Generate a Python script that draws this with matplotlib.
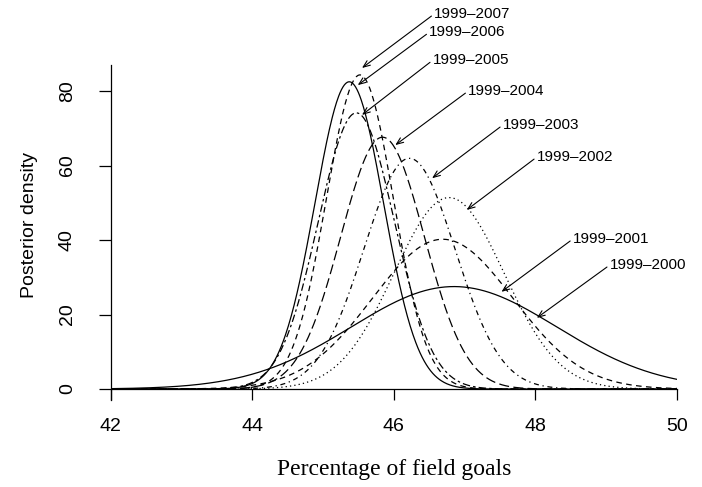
import numpy as np
import matplotlib.pyplot as plt

# posterior summaries (percentage points)
periods = ['1999-2000', '1999-2001', '1999-2002', '1999-2003',
           '1999-2004', '1999-2005', '1999-2006', '1999-2007']
means = [46.85, 46.69, 46.78, 46.22, 45.84, 45.47, 45.37, 45.52]
sds = [1.45, 0.992, 0.776, 0.644, 0.590, 0.538, 0.4836, 0.473]

# where each label arrow points and where its text begins (data units)
arrow_x = [48.02, 47.52, 47.03, 46.54, 46.02, 45.55, 45.49, 45.55]
arrow_y = [19.1, 26.1, 48.1, 56.6, 65.5, 73.6, 81.6, 86.2]
text_x = [49.05, 48.53, 48.02, 47.54, 47.05, 46.55, 46.50, 46.57]
text_y = [33.3, 40.3, 62.3, 70.9, 80.0, 88.3, 95.8, 100.7]

# R default lty cycle: solid, dashed, dotted, dotdash, longdash, twodash
dash_styles = ['-', (0, (4.5, 3.5)), (0, (1, 2.5)), (0, (1, 3, 4, 3)),
               (0, (8, 3.5)), (0, (2, 2.5, 6, 2.5)), '-', (0, (4.5, 3.5))]

sans = ['Liberation Sans', 'DejaVu Sans']
serif = ['Liberation Serif', 'DejaVu Serif']

fig = plt.figure(figsize=(7.02, 4.87), dpi=100)
ax = fig.add_axes([0.1577, 0.1786, 0.8067, 0.6879])

x = np.linspace(42, 50, 801)
for mu, sd, ls in zip(means, sds, dash_styles):
    # density of the proportion, plotted against the percentage
    dens = 100 * np.exp(-0.5 * ((x - mu) / sd) ** 2) / (sd * np.sqrt(2 * np.pi))
    ax.plot(x, dens, color='black', lw=0.9, linestyle=ls)

for lab, ax_, ay, tx, ty in zip(periods, arrow_x, arrow_y, text_x, text_y):
    ax.annotate(lab.replace('-', '\u2013'), xy=(ax_, ay), xytext=(tx, ty),
                ha='left', va='center', fontsize=11, family=sans,
                annotation_clip=False,
                arrowprops=dict(arrowstyle='->,head_length=0.45,head_width=0.18',
                                lw=0.8, color='black', relpos=(0, 0.5),
                                shrinkA=0, shrinkB=0))

ax.set_xlim(42, 50)
ax.set_ylim(-2.95, 87.0)
ax.set_xticks([42, 44, 46, 48, 50])
ax.set_yticks([0, 20, 40, 60, 80])

ax.spines['top'].set_visible(False)
ax.spines['right'].set_visible(False)
ax.spines['bottom'].set_position(('data', 0))
ax.spines['left'].set_linewidth(0.9)
ax.spines['bottom'].set_linewidth(0.9)

ax.tick_params(axis='x', length=8, width=0.9, pad=13, labelsize=14)
ax.tick_params(axis='y', length=9, width=0.9, pad=16, labelsize=14)
for t in ax.get_xticklabels() + ax.get_yticklabels():
    t.set_family(sans)
plt.setp(ax.get_yticklabels(), rotation=90, va='center', ha='right')

ax.set_ylabel('Posterior density', fontsize=14, family=sans)
ax.yaxis.label.set_va('center')
ax.yaxis.set_label_coords(-0.144, 0.522)
ax.set_xlabel('Percentage of field goals', fontsize=17, family=serif)
ax.xaxis.label.set_va('center')
ax.xaxis.set_label_coords(0.5003, -0.206)

fig.savefig('out.png', dpi=100)
